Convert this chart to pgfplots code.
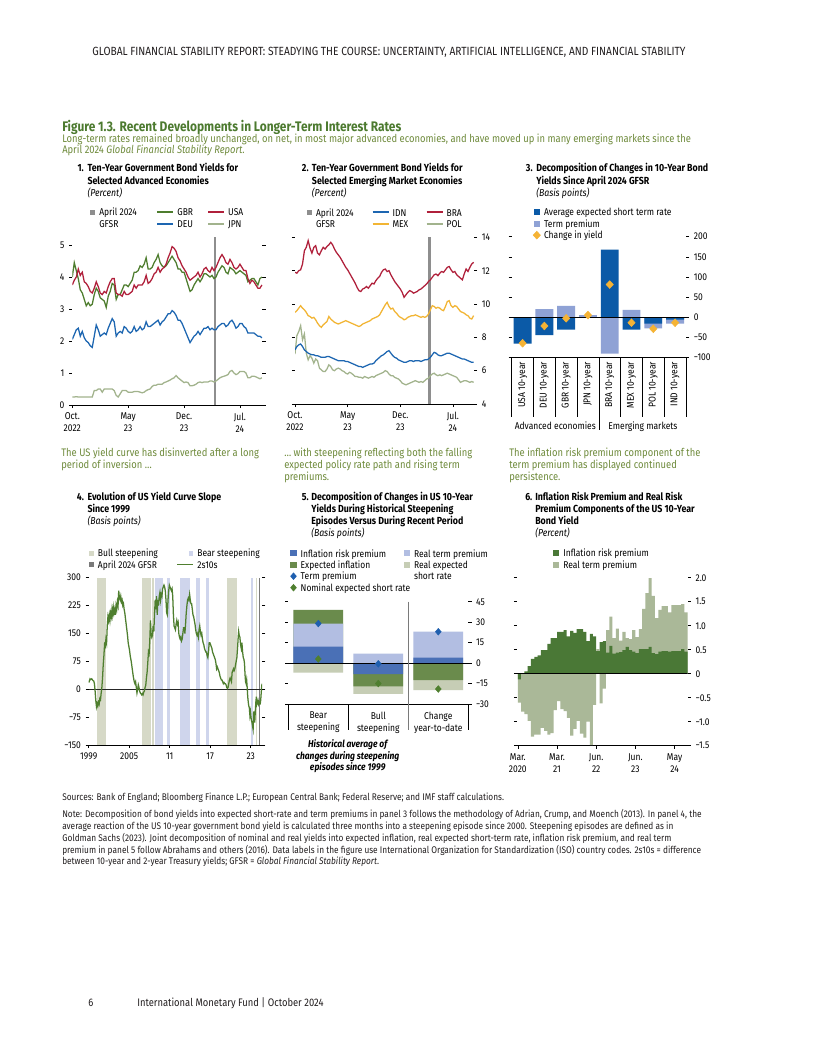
\documentclass[border=0pt]{standalone}
\usepackage{fontspec}
\setmainfont{Fira Sans}[FakeStretch=0.86]
\usepackage{pgfplots}
\usepackage{pgfplotstable}
\pgfplotsset{compat=1.18}

\definecolor{ink}{HTML}{231F20}
\definecolor{figgreen}{HTML}{4C7A2F}
\definecolor{introgreen}{HTML}{6F8B3C}
\definecolor{cusa}{HTML}{B0203B}
\definecolor{cgbr}{HTML}{4E7D2E}
\definecolor{cdeu}{HTML}{1D66B1}
\definecolor{cjpn}{HTML}{A2B38D}
\definecolor{cmex}{HTML}{F2B534}
\definecolor{cgfsr}{HTML}{8E8E8E}
\definecolor{pdark}{HTML}{0B5AA7}
\definecolor{plight}{HTML}{8FA2D5}
\definecolor{pyel}{HTML}{F5B335}
\definecolor{cbull}{HTML}{D6D9C7}
\definecolor{cbear}{HTML}{CFD5EC}
\definecolor{cline}{HTML}{4F7F2F}
\definecolor{cgfsrd}{HTML}{7A7A7A}
\definecolor{cirp}{HTML}{4A70B6}
\definecolor{crtp}{HTML}{B2BEE2}
\definecolor{ceinf}{HTML}{6A8B4C}
\definecolor{cresr}{HTML}{C6CDB5}
\definecolor{dtp}{HTML}{1F5FAF}
\definecolor{dnom}{HTML}{4F7F2F}
\definecolor{sixg}{HTML}{4A7836}
\definecolor{sixs}{HTML}{AAB898}

\newcommand\hf{\fontsize{8.9}{10}\selectfont}
\newcommand\figf{\fontsize{10.4}{12}\selectfont\bfseries}
\newcommand\subf{\fontsize{8.2}{9}\selectfont}
\newcommand\ptf{\fontsize{7.7}{9}\selectfont\bfseries}
\newcommand\puf{\fontsize{7.6}{9}\selectfont\itshape}
\newcommand\tf{\fontsize{7.4}{9}\selectfont}
\newcommand\nf{\fontsize{7.25}{9}\selectfont}
\newcommand\ls{\rule[-1.6pt]{0pt}{8.7pt}}

\pgfplotsset{
  imf/.style={
    scale only axis,
    axis x line*=bottom,
    x axis line style={black, line width=0.6pt},
    y axis line style={draw=none},
    tick align=outside,
    major tick length=2.4pt,
    tick style={black, line width=0.45pt},
    tick label style={font=\tf},
    ytick pos=both,
    legend cell align=left,
    legend style={draw=none, fill=none, inner sep=0pt, outer sep=0pt, row sep=0pt, column sep=0pt, font=\tf, nodes={inner sep=0pt, outer sep=0pt}},
  },
  lsq/.style={legend image code/.code={\path[draw=none,fill=none] (0pt,0pt) -- (15pt,0pt);\fill[##1] (8.4pt,-1.8pt) rectangle (12pt,1.8pt);}},
  lsqb/.style={legend image code/.code={\path[draw=none,fill=none] (0pt,0pt) -- (15pt,0pt);\fill[##1] (7.2pt,-2.4pt) rectangle (12pt,2.4pt);}},
  lln/.style={legend image code/.code={\path[draw=none,fill=none] (0pt,0pt) -- (15pt,0pt);\draw[##1] (0pt,0pt) -- (12pt,0pt);}},
  ldm/.style={legend image code/.code={\path[draw=none,fill=none] (0pt,0pt) -- (15pt,0pt);\draw[##1] plot coordinates {(9.6pt,0pt)};}},
  lnone/.style={legend image code/.code={\path[draw=none,fill=none] (0pt,0pt) -- (15pt,0pt);}},
}

\begin{document}

\pgfplotstableread{
m usa gbr deu jpn
0.00 3.75 4.00 2.05 0.25
0.25 3.90 4.45 2.20 0.25
0.50 4.00 4.20 2.35 0.26
0.75 4.25 3.95 2.40 0.25
1.00 4.05 3.60 2.15 0.25
1.25 4.15 3.50 2.30 0.25
1.50 3.85 3.30 2.10 0.25
1.75 3.80 3.10 2.00 0.25
2.00 3.70 3.20 1.95 0.25
2.25 3.55 3.10 1.85 0.25
2.50 3.50 3.15 1.80 0.25
2.75 3.65 3.45 2.15 0.45
3.00 3.85 3.65 2.50 0.45
3.25 3.70 3.55 2.35 0.50
3.50 3.50 3.35 2.15 0.50
3.75 3.45 3.30 2.20 0.40
4.00 3.55 3.25 2.25 0.50
4.25 3.50 3.05 2.20 0.50
4.50 3.70 3.40 2.40 0.50
4.75 3.85 3.55 2.55 0.50
5.00 3.95 3.80 2.70 0.50
5.25 3.95 3.75 2.60 0.45
5.50 3.50 3.30 2.15 0.30
5.75 3.45 3.45 2.25 0.25
6.00 3.45 3.45 2.30 0.35
6.25 3.40 3.60 2.25 0.45
6.50 3.55 3.75 2.45 0.45
6.75 3.45 3.75 2.40 0.45
7.00 3.45 3.70 2.30 0.40
7.25 3.50 3.80 2.25 0.40
7.50 3.55 3.90 2.30 0.40
7.75 3.75 4.15 2.45 0.42
8.00 3.65 4.15 2.30 0.42
8.25 3.75 4.20 2.35 0.42
8.50 3.75 4.35 2.45 0.40
8.75 3.75 4.30 2.35 0.38
9.00 3.85 4.40 2.40 0.40
9.25 4.05 4.60 2.60 0.45
9.50 3.80 4.25 2.45 0.48
9.75 3.85 4.25 2.45 0.50
10.00 3.95 4.30 2.50 0.58
10.25 4.10 4.45 2.55 0.62
10.50 4.15 4.55 2.60 0.62
10.75 4.30 4.70 2.65 0.65
11.00 4.15 4.45 2.50 0.65
11.25 4.25 4.35 2.60 0.65
11.50 4.30 4.30 2.65 0.70
11.75 4.40 4.35 2.75 0.72
12.00 4.60 4.45 2.85 0.75
12.25 4.75 4.55 2.85 0.78
12.50 4.95 4.65 2.95 0.82
12.75 4.90 4.55 2.90 0.85
13.00 4.80 4.45 2.80 0.92
13.25 4.60 4.25 2.65 0.85
13.50 4.50 4.25 2.65 0.80
13.75 4.35 4.15 2.55 0.75
14.00 4.25 4.15 2.40 0.70
14.25 4.15 3.95 2.25 0.72
14.50 4.00 3.75 2.10 0.70
14.75 3.90 3.55 1.95 0.60
15.00 3.95 3.60 2.05 0.60
15.25 4.00 3.75 2.15 0.62
15.50 4.05 3.85 2.20 0.65
15.75 4.15 3.95 2.30 0.70
16.00 4.00 3.85 2.20 0.72
16.25 4.10 3.95 2.30 0.70
16.50 4.25 4.10 2.40 0.72
16.75 4.30 4.10 2.40 0.72
17.00 4.20 4.05 2.45 0.72
17.25 4.15 4.00 2.35 0.75
17.50 4.30 4.05 2.40 0.75
17.75 4.20 3.95 2.35 0.72
18.00 4.30 4.00 2.35 0.75
18.25 4.45 4.15 2.45 0.80
18.50 4.60 4.25 2.50 0.85
18.75 4.70 4.35 2.55 0.88
19.00 4.60 4.30 2.55 0.90
19.25 4.45 4.15 2.45 0.92
19.50 4.40 4.10 2.50 0.95
19.75 4.55 4.30 2.60 1.05
20.00 4.45 4.25 2.65 1.08
20.25 4.30 4.20 2.55 1.00
20.50 4.25 4.10 2.40 0.95
20.75 4.30 4.15 2.45 0.98
21.00 4.40 4.20 2.55 1.05
21.25 4.30 4.15 2.55 1.05
21.50 4.20 4.10 2.45 1.05
21.75 4.20 4.05 2.40 1.00
22.00 3.95 3.85 2.25 0.85
22.25 3.80 3.90 2.25 0.85
22.50 3.90 3.95 2.25 0.90
22.75 3.85 3.95 2.25 0.90
23.00 3.75 3.85 2.20 0.88
23.25 3.65 3.75 2.15 0.85
23.50 3.65 3.95 2.15 0.82
23.75 3.75 4.00 2.10 0.85
}\tA

\pgfplotstableread{
m idn mex bra pol
0.00 7.25 9.50 11.90 7.00
0.25 7.45 9.60 11.85 8.10
0.50 7.55 9.75 12.00 8.35
0.75 7.60 9.90 12.05 8.70
1.00 7.45 9.75 12.40 7.85
1.25 7.25 9.65 13.20 8.20
1.50 7.15 9.50 13.40 7.05
1.75 7.05 9.30 13.80 6.65
2.00 7.00 9.25 13.35 6.90
2.25 6.95 9.15 13.05 6.75
2.50 6.95 9.20 13.40 6.45
2.75 6.90 9.05 13.50 6.70
3.00 6.90 8.85 13.05 6.60
3.25 6.85 8.70 12.95 6.15
3.50 6.80 8.60 13.20 6.05
3.75 6.80 8.75 13.40 5.95
4.00 6.80 8.85 13.30 5.95
4.25 6.85 8.95 13.45 6.10
4.50 6.85 9.25 13.55 6.35
4.75 6.80 9.10 13.70 6.25
5.00 6.75 9.00 13.55 6.05
5.25 6.70 8.90 13.30 6.00
5.50 6.65 8.85 13.10 6.10
5.75 6.60 8.80 12.95 6.15
6.00 6.60 8.85 12.80 6.10
6.25 6.60 8.90 12.60 6.00
6.50 6.60 8.95 12.40 5.95
6.75 6.55 9.00 12.20 5.85
7.00 6.55 8.95 12.05 5.80
7.25 6.50 8.90 11.85 5.90
7.50 6.45 8.85 11.65 5.85
7.75 6.40 8.80 11.45 5.75
8.00 6.35 8.75 11.25 5.65
8.25 6.30 8.70 11.00 5.65
8.50 6.25 8.65 10.80 5.60
8.75 6.25 8.70 10.75 5.60
9.00 6.20 8.80 10.90 5.55
9.25 6.25 8.85 10.95 5.65
9.50 6.30 8.90 11.05 5.60
9.75 6.35 8.95 10.95 5.55
10.00 6.40 9.00 11.10 5.60
10.25 6.40 9.10 11.25 5.65
10.50 6.45 9.15 11.20 5.60
10.75 6.60 9.20 11.40 5.70
11.00 6.70 9.25 11.55 5.75
11.25 6.80 9.35 11.65 5.80
11.50 6.90 9.55 11.90 5.85
11.75 6.95 9.75 12.05 5.90
12.00 7.05 9.95 12.10 6.00
12.25 7.15 10.10 11.95 5.95
12.50 7.20 9.85 12.00 5.80
12.75 7.05 9.70 11.75 5.70
13.00 6.90 9.75 11.55 5.70
13.25 6.80 9.55 11.35 5.60
13.50 6.75 9.45 11.20 5.55
13.75 6.65 9.30 11.05 5.50
14.00 6.60 9.20 10.90 5.40
14.25 6.55 9.15 10.70 5.25
14.50 6.50 9.05 10.40 5.20
14.75 6.50 9.10 10.55 5.15
15.00 6.55 9.20 10.70 5.20
15.25 6.60 9.25 10.80 5.25
15.50 6.60 9.30 10.75 5.30
15.75 6.55 9.30 10.65 5.35
16.00 6.60 9.35 10.70 5.40
16.25 6.60 9.30 10.75 5.35
16.50 6.60 9.25 10.85 5.30
16.75 6.55 9.20 10.90 5.35
17.00 6.60 9.25 11.00 5.30
17.25 6.65 9.20 11.10 5.40
17.50 6.65 9.25 11.20 5.50
17.75 6.70 9.40 11.35 5.55
18.00 6.80 9.65 11.45 5.70
18.25 6.95 9.90 11.60 5.80
18.50 7.10 9.85 11.75 5.85
18.75 7.05 9.75 11.80 5.75
19.00 6.95 9.80 11.70 5.70
19.25 6.90 9.75 11.85 5.75
19.50 6.90 9.65 11.95 5.70
19.75 6.95 9.60 11.90 5.75
20.00 7.00 9.85 12.05 5.80
20.25 7.05 10.15 12.20 5.85
20.50 7.05 10.20 12.25 5.80
20.75 7.00 9.90 12.05 5.75
21.00 6.95 9.80 11.90 5.70
21.25 6.90 9.90 11.95 5.65
21.50 6.85 9.85 11.75 5.60
21.75 6.80 9.70 11.65 5.45
22.00 6.75 9.55 11.55 5.30
22.25 6.70 9.50 11.45 5.35
22.50 6.70 9.45 11.80 5.40
22.75 6.65 9.35 12.10 5.40
23.00 6.60 9.30 11.95 5.35
23.25 6.55 9.15 12.20 5.30
23.50 6.50 9.10 12.40 5.35
23.75 6.50 9.30 12.50 5.30
}\tB

\pgfplotstableread{
y v
1999.00 18
1999.10 22
1999.20 28
1999.30 26
1999.45 28
1999.60 24
1999.75 22
1999.85 15
1999.95 -5
2000.05 -30
2000.15 -47
2000.25 -38
2000.35 -45
2000.45 -35
2000.55 -40
2000.65 -25
2000.75 -28
2000.85 -10
2000.95 5
2001.05 30
2001.15 65
2001.25 90
2001.35 120
2001.45 115
2001.55 135
2001.65 125
2001.75 170
2001.85 195
2001.95 185
2002.05 200
2002.15 185
2002.25 205
2002.35 195
2002.45 215
2002.55 200
2002.65 220
2002.75 205
2002.85 215
2002.95 200
2003.05 225
2003.15 215
2003.25 235
2003.35 225
2003.45 265
2003.55 245
2003.65 240
2003.75 250
2003.85 235
2003.95 240
2004.05 225
2004.15 230
2004.25 215
2004.35 205
2004.45 190
2004.55 175
2004.65 160
2004.75 145
2004.85 125
2004.95 115
2005.05 105
2005.15 90
2005.30 75
2005.45 55
2005.60 35
2005.75 20
2005.85 15
2005.95 20
2006.05 5
2006.15 -10
2006.25 0
2006.35 12
2006.45 5
2006.55 -5
2006.65 -10
2006.75 -12
2006.85 -15
2006.95 -12
2007.05 -15
2007.15 -8
2007.25 -5
2007.35 5
2007.45 10
2007.55 30
2007.65 45
2007.75 70
2007.85 100
2007.95 95
2008.05 130
2008.15 185
2008.25 150
2008.35 140
2008.45 145
2008.55 170
2008.65 155
2008.75 200
2008.85 240
2008.95 215
2009.05 250
2009.15 200
2009.25 240
2009.35 225
2009.45 250
2009.55 260
2009.65 240
2009.75 255
2009.85 250
2009.95 270
2010.05 275
2010.15 280
2010.25 275
2010.35 265
2010.45 240
2010.55 205
2010.65 200
2010.75 240
2010.85 265
2010.95 280
2011.05 275
2011.15 270
2011.25 265
2011.35 270
2011.45 250
2011.55 200
2011.65 170
2011.75 165
2011.85 160
2011.95 175
2012.05 185
2012.15 175
2012.25 180
2012.35 150
2012.45 140
2012.55 135
2012.65 140
2012.75 130
2012.85 135
2012.95 150
2013.05 165
2013.15 165
2013.25 150
2013.35 175
2013.45 205
2013.55 225
2013.65 240
2013.75 245
2013.85 240
2013.95 255
2014.05 240
2014.15 230
2014.25 230
2014.35 215
2014.45 200
2014.55 195
2014.65 185
2014.75 175
2014.85 160
2014.95 150
2015.05 145
2015.15 150
2015.25 140
2015.35 160
2015.45 170
2015.55 155
2015.65 145
2015.75 150
2015.85 135
2015.95 125
2016.05 120
2016.15 110
2016.25 105
2016.35 100
2016.45 100
2016.55 90
2016.65 85
2016.75 100
2016.85 125
2016.95 125
2017.05 120
2017.15 115
2017.25 110
2017.35 100
2017.45 95
2017.55 90
2017.65 85
2017.75 80
2017.85 70
2017.95 55
2018.05 60
2018.15 55
2018.25 50
2018.35 45
2018.45 35
2018.55 30
2018.65 25
2018.75 25
2018.85 20
2018.95 15
2019.05 18
2019.15 15
2019.25 15
2019.35 12
2019.45 5
2019.55 2
2019.65 5
2019.75 15
2019.85 25
2019.95 30
2020.05 25
2020.15 20
2020.25 45
2020.35 50
2020.45 55
2020.55 50
2020.65 55
2020.75 65
2020.85 75
2020.95 85
2021.05 110
2021.15 140
2021.22 155
2021.30 145
2021.40 140
2021.50 120
2021.60 110
2021.70 125
2021.80 100
2021.90 85
2022.00 80
2022.08 70
2022.16 40
2022.24 20
2022.32 15
2022.40 25
2022.48 5
2022.56 -20
2022.64 -35
2022.72 -45
2022.80 -50
2022.88 -70
2022.96 -60
2023.04 -75
2023.12 -85
2023.20 -90
2023.28 -100
2023.36 -108
2023.44 -60
2023.52 -70
2023.60 -90
2023.68 -60
2023.76 -35
2023.84 -20
2023.92 -40
2024.00 -35
2024.08 -30
2024.16 -40
2024.24 -35
2024.32 -40
2024.40 -40
2024.48 -30
2024.56 -10
2024.64 10
2024.70 15
}\tD

\pgfplotstableread{
i irp tot
0 -0.12 -0.60
1 0.00 -0.79
2 0.05 -0.84
3 0.16 -0.98
4 0.31 -1.31
5 0.35 -1.27
6 0.38 -1.27
7 0.49 -1.13
8 0.49 -1.19
9 0.62 -1.27
10 0.74 -1.24
11 0.74 -0.76
12 0.87 -0.57
13 0.87 -0.74
14 0.91 -0.78
15 0.78 -0.92
16 0.89 -1.29
17 0.85 -1.15
18 0.93 -0.98
19 0.93 -1.25
20 0.87 -1.33
21 0.68 -1.00
22 0.83 -1.49
23 0.78 -0.65
24 0.47 0.51
25 0.66 -0.62
26 0.68 -0.31
27 0.44 0.91
28 0.58 1.19
29 0.42 0.74
30 0.44 0.94
31 0.45 0.69
32 0.49 0.87
33 0.56 0.74
34 0.49 0.72
35 0.46 0.91
36 0.43 0.76
37 0.51 0.93
38 0.51 1.35
39 0.51 1.68
40 0.56 1.99
41 0.43 1.62
42 0.41 1.16
43 0.46 1.33
44 0.47 1.41
45 0.47 1.41
46 0.46 1.28
47 0.47 1.43
48 0.47 1.43
49 0.47 1.43
50 0.51 1.45
51 0.46 1.28
}\tF

\begin{tikzpicture}
\begin{scope}[x=0.75pt,y=-0.75pt]
\fill[white] (0,0) rectangle (816,1056);
\coordinate (a1) at (72.3,405);
\coordinate (a2) at (295,404);
\coordinate (a3) at (511.7,357.3);
\coordinate (a4) at (88.7,745);
\coordinate (a5) at (288.3,704);
\coordinate (a6) at (517,745.7);

\node[anchor=base, font=\hf, text=ink, inner sep=0pt] at (389,55.5) {GLOBAL FINANCIAL STABILITY REPORT: STEADYING THE COURSE: UNCERTAINTY, ARTIFICIAL INTELLIGENCE, AND FINANCIAL STABILITY};
\node[anchor=base west, font=\figf, text=figgreen, inner sep=0pt] at (62,131.5) {Figure 1.3. Recent Developments in Longer-Term Interest Rates};
\node[anchor=base west, font=\subf, text=introgreen, inner sep=0pt] at (62,142) {Long-term rates remained broadly unchanged, on net, in most major advanced economies, and have moved up in many emerging markets since the};
\node[anchor=base west, font=\subf, text=introgreen, inner sep=0pt] at (62,153.5) {April 2024 \textit{Global Financial Stability Report}.};

% panel titles row 1
\node[anchor=base west, font=\ptf, inner sep=0pt] at (77.3,171) {1.};
\node[anchor=base west, font=\ptf, inner sep=0pt] at (87.3,171) {Ten-Year Government Bond Yields for};
\node[anchor=base west, font=\ptf, inner sep=0pt] at (87.3,184.3) {Selected Advanced Economies};
\node[anchor=base west, font=\puf, inner sep=0pt] at (87.3,196.3) {(Percent)};

\node[anchor=base west, font=\ptf, inner sep=0pt] at (301.7,171) {2.};
\node[anchor=base west, font=\ptf, inner sep=0pt] at (311.7,171) {Ten-Year Government Bond Yields for};
\node[anchor=base west, font=\ptf, inner sep=0pt] at (311.7,184.3) {Selected Emerging Market Economies};
\node[anchor=base west, font=\puf, inner sep=0pt] at (311.7,196.3) {(Percent)};

\node[anchor=base west, font=\ptf, inner sep=0pt] at (525.7,171) {3.};
\node[anchor=base west, font=\ptf, inner sep=0pt] at (536,171) {Decomposition of Changes in 10-Year Bond};
\node[anchor=base west, font=\ptf, inner sep=0pt] at (536,184.3) {Yields Since April 2024 GFSR};
\node[anchor=base west, font=\puf, inner sep=0pt] at (536,196.3) {(Basis points)};

% intro texts row 2
\node[anchor=base west, font=\subf, text=introgreen, inner sep=0pt] at (61,456.5) {The US yield curve has disinverted after a long};
\node[anchor=base west, font=\subf, text=introgreen, inner sep=0pt] at (61,468.5) {period of inversion \dots};
\node[anchor=base west, font=\subf, text=introgreen, inner sep=0pt] at (284,456.5) {\dots\ with steepening reflecting both the falling};
\node[anchor=base west, font=\subf, text=introgreen, inner sep=0pt] at (284,468.5) {expected policy rate path and rising term};
\node[anchor=base west, font=\subf, text=introgreen, inner sep=0pt] at (284,480.5) {premiums.};
\node[anchor=base west, font=\subf, text=introgreen, inner sep=0pt] at (509,456.5) {The inflation risk premium component of the};
\node[anchor=base west, font=\subf, text=introgreen, inner sep=0pt] at (509,468.5) {term premium has displayed continued};
\node[anchor=base west, font=\subf, text=introgreen, inner sep=0pt] at (509,480.5) {persistence.};

% panel titles row 2
\node[anchor=base west, font=\ptf, inner sep=0pt] at (76.7,500) {4.};
\node[anchor=base west, font=\ptf, inner sep=0pt] at (87.3,500) {Evolution of US Yield Curve Slope};
\node[anchor=base west, font=\ptf, inner sep=0pt] at (87.3,512) {Since 1999};
\node[anchor=base west, font=\puf, inner sep=0pt] at (87.3,524.3) {(Basis points)};

\node[anchor=base west, font=\ptf, inner sep=0pt] at (301.7,500) {5.};
\node[anchor=base west, font=\ptf, inner sep=0pt] at (311,500) {Decomposition of Changes in US 10-Year};
\node[anchor=base west, font=\ptf, inner sep=0pt] at (311,512) {Yields During Historical Steepening};
\node[anchor=base west, font=\ptf, inner sep=0pt] at (311,524.3) {Episodes Versus During Recent Period};
\node[anchor=base west, font=\puf, inner sep=0pt] at (311,536.3) {(Basis points)};

\node[anchor=base west, font=\ptf, inner sep=0pt] at (525,500) {6.};
\node[anchor=base west, font=\ptf, inner sep=0pt] at (535,500) {Inflation Risk Premium and Real Risk};
\node[anchor=base west, font=\ptf, inner sep=0pt] at (535,512) {Premium Components of the US 10-Year};
\node[anchor=base west, font=\ptf, inner sep=0pt] at (535,524.3) {Bond Yield};
\node[anchor=base west, font=\puf, inner sep=0pt] at (535,536.3) {(Percent)};

% panel 3 group labels
\node[anchor=base, font=\tf, inner sep=0pt] at (555.3,429) {Advanced economies};
\node[anchor=base, font=\tf, inner sep=0pt] at (642.9,429) {Emerging markets};

% panel 5 italic note
\node[anchor=base, font=\tf\bfseries\itshape, inner sep=0pt] at (347.7,747) {Historical average of};
\node[anchor=base, font=\tf\bfseries\itshape, inner sep=0pt] at (347.7,759.5) {changes during steepening};
\node[anchor=base, font=\tf\bfseries\itshape, inner sep=0pt] at (347.7,770.5) {episodes since 1999};

% notes
\node[anchor=base west, font=\nf, text=ink, inner sep=0pt] at (62,800.5) {Sources: Bank of England; Bloomberg Finance L.P.; European Central Bank; Federal Reserve; and IMF staff calculations.};
\node[anchor=base west, font=\nf, text=ink, inner sep=0pt] at (62,817.5) {Note: Decomposition of bond yields into expected short-rate and term premiums in panel 3 follows the methodology of Adrian, Crump, and Moench (2013). In panel 4, the};
\node[anchor=base west, font=\nf, text=ink, inner sep=0pt] at (62,829.5) {average reaction of the US 10-year government bond yield is calculated three months into a steepening episode since 2000. Steepening episodes are defined as in};
\node[anchor=base west, font=\nf, text=ink, inner sep=0pt] at (62,841.5) {Goldman Sachs (2023). Joint decomposition of nominal and real yields into expected inflation, real expected short-term rate, inflation risk premium, and real term};
\node[anchor=base west, font=\nf, text=ink, inner sep=0pt] at (62,853) {premium in panel 5 follow Abrahams and others (2016). Data labels in the figure use International Organization for Standardization (ISO) country codes. 2s10s = difference};
\node[anchor=base west, font=\nf, text=ink, inner sep=0pt] at (62,864.5) {between 10-year and 2-year Treasury yields; GFSR = \textit{Global Financial Stability Report}.};

% footer
\node[anchor=base west, font=\subf, text=ink, inner sep=0pt] at (88,1006.5) {6};
\node[anchor=base west, font=\subf, text=ink, inner sep=0pt] at (137,1006.5) {International Monetary Fund | October 2024};
\end{scope}

% ---------------- Panel 1
\begin{axis}[imf, at={(a1)}, anchor=south west, width=142.5pt, height=126pt,
  xmin=0, xmax=23.8, ymin=0, ymax=5.25,
  xtick={0,7,14,21}, xticklabels={{Oct.\\2022},{May\\23},{Dec.\\23},{Jul.\\24}},
  xticklabel style={align=center},
  ytick={0,1,2,3,4,5}, yticklabels={0,1,2,3,4,5}, yticklabel pos=left,
  legend columns=3,
  legend style={at={(axis description cs:0.0368,1.1815)}, anchor=north west},
]
\addlegendimage{lsq, fill=cgfsr, draw=none}\addlegendentry{\ls\makebox[43pt][l]{April 2024}}
\addlegendimage{lln, cgbr, line width=1.2pt}\addlegendentry{\ls\makebox[22.5pt][l]{GBR}}
\addlegendimage{lln, cusa, line width=1.2pt}\addlegendentry{\ls USA}
\addlegendimage{lnone}\addlegendentry{\ls\makebox[43pt][l]{GFSR}}
\addlegendimage{lln, cdeu, line width=1.2pt}\addlegendentry{\ls\makebox[22.5pt][l]{DEU}}
\addlegendimage{lln, cjpn, line width=1.2pt}\addlegendentry{\ls JPN}
\addplot[cgfsr, line width=1.8pt, forget plot] coordinates {(17.9,0) (17.9,5.25)};
\addplot[cjpn, line width=0.95pt, forget plot] table[x=m,y=jpn]{\tA};
\addplot[cdeu, line width=0.95pt, forget plot] table[x=m,y=deu]{\tA};
\addplot[cgbr, line width=0.95pt, forget plot] table[x=m,y=gbr]{\tA};
\addplot[cusa, line width=0.95pt, forget plot] table[x=m,y=usa]{\tA};
\end{axis}

% ---------------- Panel 2
\begin{axis}[imf, at={(a2)}, anchor=south west, width=134.25pt, height=125pt,
  xmin=0, xmax=23.8, ymin=4, ymax=14,
  xtick={0,7,14,21}, xticklabels={{Oct.\\2022},{May\\23},{Dec.\\23},{Jul.\\24}},
  xticklabel style={align=center},
  ytick={4,6,8,10,12,14}, yticklabels={4,6,8,10,12,14}, yticklabel pos=right,
  legend columns=3,
  legend style={at={(axis description cs:0.0056,1.1848)}, anchor=north west},
]
\addlegendimage{lsq, fill=cgfsr, draw=none}\addlegendentry{\ls\makebox[41.8pt][l]{April 2024}}
\addlegendimage{lln, cdeu, line width=1.2pt}\addlegendentry{\ls\makebox[25pt][l]{IDN}}
\addlegendimage{lln, cusa, line width=1.2pt}\addlegendentry{\ls BRA}
\addlegendimage{lnone}\addlegendentry{\ls\makebox[41.8pt][l]{GFSR}}
\addlegendimage{lln, cmex, line width=1.2pt}\addlegendentry{\ls\makebox[25pt][l]{MEX}}
\addlegendimage{lln, cjpn, line width=1.2pt}\addlegendentry{\ls POL}
\addplot[cgfsr, line width=1.8pt, forget plot] coordinates {(17.9,4) (17.9,14)};
\addplot[cjpn, line width=0.95pt, forget plot] table[x=m,y=pol]{\tB};
\addplot[cdeu, line width=0.95pt, forget plot] table[x=m,y=idn]{\tB};
\addplot[cmex, line width=0.95pt, forget plot] table[x=m,y=mex]{\tB};
\addplot[cusa, line width=0.95pt, forget plot] table[x=m,y=bra]{\tB};
\end{axis}

% ---------------- Panel 3
\begin{axis}[imf, at={(a3)}, anchor=south west, width=130.7pt, height=90.45pt,
  clip=false,
  xmin=-0.5, xmax=7.5, ymin=-100, ymax=200,
  xtick={0,1,2,3,4,5,6,7},
  xticklabels={USA 10-year,DEU 10-year,GBR 10-year,JPN 10-year,BRA 10-year,MEX 10-year,POL 10-year,IND 10-year},
  xtick style={draw=none},
  xticklabel style={rotate=90, anchor=east, inner sep=1pt},
  ytick={-100,-50,0,50,100,150,200}, yticklabels={−100,−50,0,50,100,150,200}, yticklabel pos=right,
  legend columns=1,
  legend style={at={(axis description cs:0.0706,1.2504)}, anchor=north west},
]
\addlegendimage{lsqb, fill=pdark, draw=none}\addlegendentry{\ls Average expected short term rate}
\addlegendimage{lsqb, fill=plight, draw=none}\addlegendentry{\ls Term premium}
\addlegendimage{ldm, color=pyel, only marks, mark=diamond*, mark size=2.9pt, mark options={xscale=1.25, draw=pyel, fill=pyel}}\addlegendentry{\ls Change in yield}
\addplot[ybar, bar width=0.82, bar shift=0pt, fill=plight, draw=none, forget plot] coordinates {(0,0) (1,20) (2,28) (3,5) (4,-91) (5,18) (6,-28) (7,-16)};
\addplot[ybar, bar width=0.82, bar shift=0pt, fill=pdark, draw=none, forget plot] coordinates {(0,-66) (1,-45) (2,-31) (3,0) (4,168) (5,-31) (6,-16) (7,-6)};
\draw[black, line width=0.6pt] (axis cs:-0.5,0) -- (axis cs:7.5,0);
\addplot[color=pyel, only marks, mark=diamond*, mark size=2.9pt, mark options={xscale=1.25, draw=pyel, fill=pyel}, forget plot] coordinates {(0,-65) (1,-22) (2,-3) (3,5) (4,81) (5,-14) (6,-29) (7,-14)};
\pgfplotsinvokeforeach{-0.5,0.5,1.5,2.5,4.5,5.5,6.5,7.5}{\draw[black, line width=0.5pt] (axis cs:#1,-100) -- ++(0pt,-44.5pt);}
\draw[black, line width=0.5pt] (axis cs:3.5,-100) -- ++(0pt,-54.5pt);
\end{axis}

% ---------------- Panel 4
\begin{axis}[imf, at={(a4)}, anchor=south west, width=130.1pt, height=125.5pt,
  xmin=1999, xmax=2024.7, ymin=-150, ymax=300,
  xtick={1999,2005,2011,2017,2023}, xticklabels={1999,2005,11,17,23},
  ytick={-150,-75,0,75,150,225,300}, yticklabels={−150,−75,0,75,150,225,300}, yticklabel pos=left,
  legend columns=2,
  legend style={at={(axis description cs:-0.0617,1.1805)}, anchor=north west},
]
\addlegendimage{lsq, fill=cbull, draw=none}\addlegendentry{\ls\makebox[59pt][l]{Bull steepening}}
\addlegendimage{lsq, fill=cbear, draw=none}\addlegendentry{\ls Bear steepening}
\addlegendimage{lsq, fill=cgfsrd, draw=none}\addlegendentry{\ls\makebox[59pt][l]{April 2024 GFSR}}
\addlegendimage{lln, cline, line width=1.1pt}\addlegendentry{\ls 2s10s}
\addplot[fill=cbull, draw=none, forget plot] coordinates {(2000.27,-150) (2000.27,300) (2001.51,300) (2001.51,-150)} -- cycle;
\addplot[fill=cbull, draw=none, forget plot] coordinates {(2006.83,-150) (2006.83,300) (2008.17,300) (2008.17,-150)} -- cycle;
\addplot[fill=cbull, draw=none, forget plot] coordinates {(2008.31,-150) (2008.31,300) (2008.66,300) (2008.66,-150)} -- cycle;
\addplot[fill=cbull, draw=none, forget plot] coordinates {(2019.55,-150) (2019.55,300) (2021.03,300) (2021.03,-150)} -- cycle;
\addplot[fill=cbull, draw=none, forget plot] coordinates {(2023.74,-150) (2023.74,300) (2023.93,300) (2023.93,-150)} -- cycle;
\addplot[fill=cbear, draw=none, forget plot] coordinates {(2008.80,-150) (2008.80,300) (2009.99,300) (2009.99,-150)} -- cycle;
\addplot[fill=cbear, draw=none, forget plot] coordinates {(2010.53,-150) (2010.53,300) (2011.07,300) (2011.07,-150)} -- cycle;
\addplot[fill=cbear, draw=none, forget plot] coordinates {(2012.50,-150) (2012.50,300) (2013.98,300) (2013.98,-150)} -- cycle;
\addplot[fill=cbear, draw=none, forget plot] coordinates {(2014.97,-150) (2014.97,300) (2015.46,300) (2015.46,-150)} -- cycle;
\addplot[fill=cbear, draw=none, forget plot] coordinates {(2016.45,-150) (2016.45,300) (2016.83,300) (2016.83,-150)} -- cycle;
\addplot[fill=cbear, draw=none, forget plot] coordinates {(2023.10,-150) (2023.10,300) (2023.34,300) (2023.34,-150)} -- cycle;
\addplot[cgfsrd, line width=1.1pt, forget plot] coordinates {(2024.29,-150) (2024.29,300)};
\draw[black!85, line width=0.6pt] (axis cs:1999,0) -- (axis cs:2024.7,0);
\addplot[cline, line width=0.95pt, forget plot] table[x=y,y=v]{\tD};
\end{axis}

% ---------------- Panel 5
\begin{axis}[imf, at={(a5)}, anchor=south west, width=135pt, height=76.7pt,
  clip=false,
  xmin=-0.5, xmax=2.5, ymin=-30, ymax=45,
  xtick={0,1,2}, xticklabels={{Bear\\steepening},{Bull\\steepening},{Change\\year-to-date}},
  xtick style={draw=none}, xticklabel style={align=center},
  ytick={-30,-15,0,15,30,45}, yticklabels={−30,−15,0,15,30,45}, yticklabel pos=right,
  legend columns=2,
  legend style={at={(axis description cs:-0.0422,1.5298)}, anchor=north west},
]
\addlegendimage{lsqb, fill=cirp, draw=none}\addlegendentry{\ls\makebox[70pt][l]{Inflation risk premium}}
\addlegendimage{lsqb, fill=crtp, draw=none}\addlegendentry{\ls Real term premium}
\addlegendimage{lsqb, fill=ceinf, draw=none}\addlegendentry{\ls\makebox[70pt][l]{Expected inflation}}
\addlegendimage{lsqb, fill=cresr, draw=none}\addlegendentry{\ls Real expected}
\addlegendimage{ldm, color=dtp, only marks, mark=diamond*, mark size=2.5pt, mark options={xscale=1.15, draw=dtp, fill=dtp}}\addlegendentry{\ls\makebox[70pt][l]{Term premium}}
\addlegendimage{lnone}\addlegendentry{\ls short rate}
\addlegendimage{ldm, color=dnom, only marks, mark=diamond*, mark size=2.5pt, mark options={xscale=1.15, draw=dnom, fill=dnom}}\addlegendentry{\ls\makebox[70pt][l]{Nominal expected short rate}}
\addplot[ybar, bar width=0.83, bar shift=0pt, fill=cresr, draw=none, forget plot] coordinates {(0,-7) (1,-22.5) (2,-19.8)};
\addplot[ybar, bar width=0.83, bar shift=0pt, fill=ceinf, draw=none, forget plot] coordinates {(0,39) (1,-17) (2,-12.5)};
\addplot[ybar, bar width=0.83, bar shift=0pt, fill=crtp, draw=none, forget plot] coordinates {(0,29) (1,7) (2,23)};
\addplot[ybar, bar width=0.83, bar shift=0pt, fill=cirp, draw=none, forget plot] coordinates {(0,12) (1,-8) (2,4)};
\draw[black, line width=0.6pt] (axis cs:-0.5,0) -- (axis cs:2.5,0);
\draw[cgfsrd, line width=1pt] (axis cs:1.5,45) -- (axis cs:1.5,-30) -- ++(0pt,-19.5pt);
\pgfplotsinvokeforeach{-0.5,0.5,2.5}{\draw[black, line width=0.5pt] (axis cs:#1,-30) -- ++(0pt,-19.5pt);}
\addplot[color=dtp, only marks, mark=diamond*, mark size=2.5pt, mark options={xscale=1.15, draw=dtp, fill=dtp}, forget plot] coordinates {(0,29) (1,-0.5) (2,23)};
\addplot[color=dnom, only marks, mark=diamond*, mark size=2.5pt, mark options={xscale=1.15, draw=dnom, fill=dnom}, forget plot] coordinates {(0,3) (1,-15) (2,-19)};
\end{axis}

% ---------------- Panel 6
\begin{axis}[imf, at={(a6)}, anchor=south west, width=128pt, height=126pt,
  xmin=-0.75, xmax=51.5, ymin=-1.5, ymax=2,
  xtick={-0.5,11.5,23.5,35.5,47.5}, xticklabels={{Mar.\\2020},{Mar.\\21},{Jun.\\22},{Jun.\\23},{May\\24}},
  xticklabel style={align=center},
  ytick={-1.5,-1,-0.5,0,0.5,1,1.5,2}, yticklabels={−1.5,−1.0,−0.5,0,0.5,1.0,1.5,2.0}, yticklabel pos=right,
  legend columns=1,
  legend style={at={(axis description cs:0.1542,1.1798)}, anchor=north west},
]
\addlegendimage{lsqb, fill=sixg, draw=none}\addlegendentry{\ls Inflation risk premium}
\addlegendimage{lsqb, fill=sixs, draw=none}\addlegendentry{\ls Real term premium}
\addplot[ybar, bar width=0.94, bar shift=0pt, fill=sixs, draw=none, forget plot] table[x=i,y=tot]{\tF};
\addplot[ybar, bar width=0.94, bar shift=0pt, fill=sixg, draw=none, forget plot] table[x=i,y=irp]{\tF};
\draw[black, line width=0.6pt] (axis cs:-0.75,0) -- (axis cs:51.5,0);
\end{axis}
\end{tikzpicture}
\end{document}
